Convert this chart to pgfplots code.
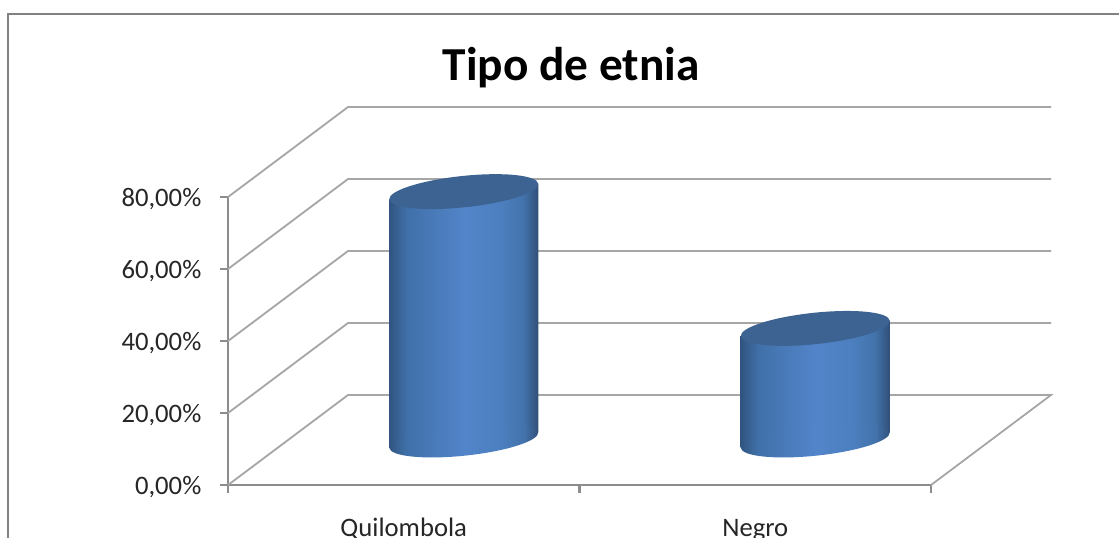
\documentclass[border=0pt]{standalone}
\usepackage{fontspec}
\setmainfont{Carlito}
\usepackage{pgfplots}
\pgfplotsset{compat=1.18}

\newlength\px
\setlength\px{0.75pt}

\definecolor{wallgray}{HTML}{A6A6A6}
\definecolor{axisgray}{HTML}{8C8C8C}
\definecolor{framegray}{HTML}{828282}
\definecolor{capblue}{HTML}{3C6391}

\pgfdeclarehorizontalshading{cyl}{100bp}{
  rgb(0bp)=(0.19,0.33,0.50);
  rgb(25bp)=(0.19,0.33,0.50);
  rgb(31bp)=(0.25,0.44,0.66);
  rgb(38bp)=(0.28,0.47,0.71);
  rgb(50bp)=(0.32,0.52,0.79);
  rgb(62bp)=(0.30,0.50,0.75);
  rgb(70bp)=(0.26,0.45,0.67);
  rgb(75bp)=(0.19,0.31,0.47);
  rgb(100bp)=(0.19,0.31,0.47)}

% tilted ellipses for the cylinder ends
\pgfdeclareplotmark{topcap}{%
  \pgfpathellipse{\pgfpointorigin}{\pgfpoint{74.5\px}{7.8\px}}{\pgfpoint{-1.6\px}{15.6\px}}%
  \pgfusepathqfill}
\pgfdeclareplotmark{basecap}{%
  \pgfpathellipse{\pgfpointorigin}{\pgfpoint{74.5\px}{7.8\px}}{\pgfpoint{-1.6\px}{15.6\px}}%
  \pgfshadepath{cyl}{0}\pgfusepath{discard}}

\begin{document}
\begin{tikzpicture}[x=1\px,y=1\px]
  \path[use as bounding box,clip] (0,0) rectangle (1119,-538);
  \draw[framegray,line width=2\px] (8,-545) -- (8,-14) -- (1125,-14);

  \begin{axis}[
      at={(228\px,-485\px)},
      anchor=south west,
      scale only axis,
      width=703\px,
      height=288\px,
      xmin=-0.5, xmax=1.5,
      ymin=0, ymax=80,
      clip=false,
      axis x line=bottom,
      axis y line=left,
      axis line style={-,axisgray,line width=2.4\px},
      tick style={axisgray,line width=2.4\px},
      tick align=outside,
      major tick length=8\px,
      xtick={-0.5,0.5,1.5},
      xticklabels={},
      extra x ticks={0,1},
      extra x tick labels={Quilombola,Negro},
      extra x tick style={major tick length=0pt,
        tick label style={yshift=-27\px,text height=15pt,text depth=5pt}},
      ytick={0,20,40,60,80},
      yticklabels={{0,00\%},{20,00\%},{40,00\%},{60,00\%},{80,00\%}},
      ticklabel style={font=\fontsize{20}{24}\selectfont,text=black!85},
      yticklabel style={xshift=-14\px,yshift=-2\px},
      title={Tipo de etnia},
      every axis title shift=0pt,
      title style={at={(axis description cs:0.488,1.448)},anchor=center,
        font=\fontsize{35.5}{42}\selectfont\bfseries},
    ]
    % floor and back wall
    \addplot[wallgray,line width=1.8\px] coordinates {(-0.5,0) (-0.1586,25) (1.8414,25) (1.5,0)};
    \addplot[wallgray,line width=1.8\px] coordinates {(-0.5,20) (-0.1586,45) (1.8414,45)};
    \addplot[wallgray,line width=1.8\px] coordinates {(-0.5,40) (-0.1586,65) (1.8414,65)};
    \addplot[wallgray,line width=1.8\px] coordinates {(-0.5,60) (-0.1586,85) (1.8414,85)};
    \addplot[wallgray,line width=1.8\px] coordinates {(-0.5,80) (-0.1586,105) (1.8414,105)};
  \end{axis}

  % cylinders stand half way into the floor
  \begin{axis}[
      at={(288\px,-440\px)},
      anchor=south west,
      scale only axis,
      width=703\px,
      height=288\px,
      xmin=-0.5, xmax=1.5,
      ymin=0, ymax=80,
      clip=false,
      hide axis,
    ]
    \addplot[only marks,mark=basecap,mark options={draw=none}] coordinates {(0,0) (1,0)};
    % body leans with the tilted ends: 69 and 31, +-2.17 at the sides
    \addplot[draw=none,shade,shading=cyl]
      coordinates {(-0.212,-2.17) (0.212,2.17) (0.212,71.17) (-0.212,66.83)} -- cycle;
    \addplot[draw=none,shade,shading=cyl]
      coordinates {(0.788,-2.17) (1.212,2.17) (1.212,33.17) (0.788,28.83)} -- cycle;
    \addplot[only marks,mark=topcap,mark options={fill=capblue,draw=none}]
      coordinates {(0,69) (1,31)};
  \end{axis}
\end{tikzpicture}
\end{document}
